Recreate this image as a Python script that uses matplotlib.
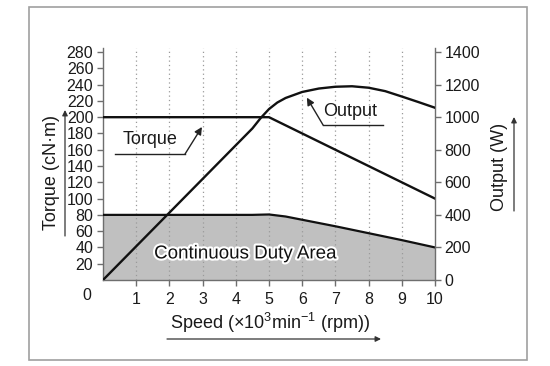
import matplotlib
matplotlib.use("Agg")
import matplotlib.pyplot as plt
import matplotlib.patheffects as pe
from matplotlib.patches import Rectangle, FancyArrowPatch

plt.rcParams['font.family'] = ['Liberation Sans', 'DejaVu Sans']
plt.rcParams['mathtext.fontset'] = 'custom'
plt.rcParams['mathtext.rm'] = 'Liberation Sans'
plt.rcParams['mathtext.it'] = 'Liberation Sans'

# ---- data ----
speed_torque = [0, 5, 10]
torque = [200, 200, 100]

speed_output = [0, 4.5, 4.75, 5.0, 5.25, 5.5, 6, 6.5, 7, 7.5, 8, 8.5, 9, 9.5, 10]
output = [0, 931, 995, 1050, 1090, 1118, 1155, 1176, 1187, 1190, 1181, 1160, 1127, 1093, 1058]

speed_cont = [0, 4.5, 5, 5.5, 6, 7, 8, 9, 10]
cont_torque = [80, 80, 80.5, 78, 74, 66, 57.5, 49, 40]

x_ticks = [1, 2, 3, 4, 5, 6, 7, 8, 9, 10]
torque_ticks = [20, 40, 60, 80, 100, 120, 140, 160, 180, 200, 220, 240, 260, 280]
output_ticks = [0, 200, 400, 600, 800, 1000, 1200, 1400]

W, H = 550, 366
fig = plt.figure(figsize=(W / 100, H / 100), dpi=100)
ax = fig.add_axes([103 / W, 1 - 280 / H, (435 - 103) / W, (280 - 48) / H])
ax2 = ax.twinx()

txt = '#1a1a1a'
spc = '#6e6e6e'

ax.set_xlim(0, 10)
ax.set_ylim(0, 285)
ax2.set_ylim(0, 1425)

ax.fill_between(speed_cont, 0, cont_torque, color='#c0c0c0', lw=0, zorder=1)
for xv in range(1, 10):
    ax.axvline(xv, color='#9a9a9a', lw=0.9, ls=(0, (1, 2.5)), zorder=2)
ax.plot(speed_cont, cont_torque, color='#111111', lw=1.6, zorder=3)
ax.plot(speed_torque, torque, color='#111111', lw=1.7, zorder=4)
ax2.plot(speed_output, output, color='#111111', lw=1.7, zorder=4)

for a in (ax, ax2):
    a.spines['top'].set_visible(False)
    for s in a.spines.values():
        s.set_color(spc)
        s.set_linewidth(1.0)
ax.spines['right'].set_visible(False)
ax2.spines['left'].set_visible(False)
ax2.spines['bottom'].set_visible(False)

ax.set_xticks(x_ticks)
ax.set_xticklabels([str(v) for v in x_ticks])
ax.set_yticks(torque_ticks)
ax2.set_yticks(output_ticks)
ax.tick_params(axis='both', direction='out', length=4, width=1, color=spc,
               labelcolor=txt, labelsize=11.5, pad=3)
ax.tick_params(axis='x', pad=5)
ax2.tick_params(axis='y', direction='out', length=4, width=1, color=spc,
                labelcolor=txt, labelsize=11.5, pad=3)

# origin label
fig.text(87 / W, 1 - 295 / H, '0', ha='center', va='center', fontsize=11.5, color=txt)

# region label
ax.text(4.28, 32, 'Continuous Duty Area', ha='center', va='center', fontsize=13.5,
        color='#111111', zorder=5,
        path_effects=[pe.withStroke(linewidth=3, foreground='white')])

# curve annotations
ax.text(1.42, 172, 'Torque', ha='center', va='center', fontsize=13, color=txt, zorder=6)
ax.plot([0.36, 2.47], [154.7, 154.7], color='#222222', lw=1.0, zorder=6)
ax.annotate('', xy=(2.98, 188), xytext=(2.47, 154.7),
            arrowprops=dict(arrowstyle='-|>', color='#222222', lw=1.0,
                            mutation_scale=11, shrinkA=0, shrinkB=0), zorder=6)

ax.text(7.44, 207.5, 'Output', ha='center', va='center', fontsize=13, color=txt, zorder=6)
ax.plot([6.63, 8.43], [190.3, 190.3], color='#222222', lw=1.0, zorder=6)
ax.annotate('', xy=(6.14, 224), xytext=(6.63, 190.3),
            arrowprops=dict(arrowstyle='-|>', color='#222222', lw=1.0,
                            mutation_scale=11, shrinkA=0, shrinkB=0), zorder=6)

# axis labels
fig.text(52 / W, 1 - 172 / H, 'Torque (cN·m)', rotation=90, ha='center', va='center',
         fontsize=13, color=txt)
fig.text(500 / W, 1 - 167 / H, 'Output (W)', rotation=90, ha='center', va='center',
         fontsize=13, color=txt)
fig.text(270 / W, 1 - 323 / H, r'Speed ($\times$10$^3$min$^{-1}$ (rpm))', ha='center',
         va='center', fontsize=13, color=txt)

def fig_arrow(x0, y0, x1, y1):
    fig.add_artist(FancyArrowPatch(
        (x0 / W, 1 - y0 / H), (x1 / W, 1 - y1 / H), transform=fig.transFigure,
        arrowstyle='-|>', mutation_scale=8, color='#333333', lw=0.9,
        shrinkA=0, shrinkB=0))

fig_arrow(65, 236, 65, 110)
fig_arrow(514, 211, 514, 117)
fig_arrow(167, 339, 381, 339)

# outer frame
fig.add_artist(Rectangle((29 / W, 1 - 360 / H), 498 / W, 353 / H, transform=fig.transFigure,
                         fill=False, edgecolor='#a0a0a0', lw=1.2))

fig.savefig('out.png', dpi=100)
